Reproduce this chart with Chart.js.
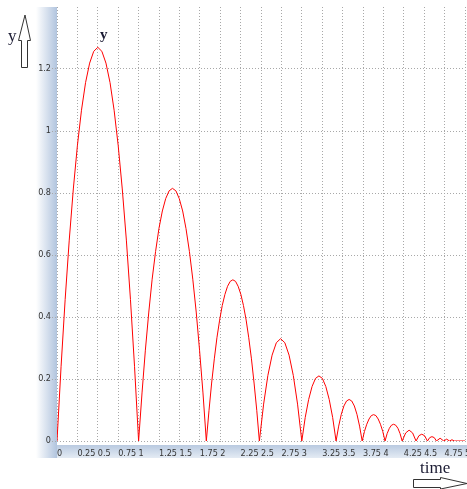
<!DOCTYPE html>
<html>
<head>
<meta charset="utf-8">
<script src="https://cdn.jsdelivr.net/npm/chart.js@4"></script>
<style>
  html, body { margin: 0; padding: 0; background: #fff; }
  #myChart { display: block; }
</style>
</head>
<body>
<canvas id="myChart" width="467" height="489"></canvas>
<script>
// bouncing ball: time (x) and height (y)
const times = [
  0, 0.05, 0.1, 0.15, 0.2, 0.25, 0.3, 0.35, 0.4, 0.45, 0.5, 0.55, 0.6, 0.65, 0.7, 0.75, 0.8, 0.85, 0.9, 0.95, 1.0,
  1.042, 1.083, 1.125, 1.166, 1.208, 1.249, 1.291, 1.332, 1.374, 1.415, 1.457, 1.498, 1.54, 1.581, 1.623, 1.664, 1.706, 1.747, 1.789, 1.83,
  1.863, 1.895, 1.928, 1.96, 1.993, 2.025, 2.058, 2.09, 2.123, 2.155, 2.188, 2.22, 2.253, 2.285, 2.318, 2.35, 2.383, 2.415, 2.448, 2.48,
  2.532, 2.584, 2.636, 2.688, 2.74, 2.792, 2.844, 2.896, 2.948, 3.0,
  3.042, 3.084, 3.126, 3.168, 3.21, 3.252, 3.294, 3.336, 3.378, 3.42,
  3.452, 3.484, 3.516, 3.548, 3.58, 3.612, 3.644, 3.676, 3.708, 3.74,
  3.768, 3.796, 3.824, 3.852, 3.88, 3.908, 3.936, 3.964, 3.992, 4.02,
  4.046, 4.073, 4.099, 4.125, 4.151, 4.178, 4.204, 4.23,
  4.273, 4.315, 4.358, 4.40,
  4.435, 4.47, 4.505, 4.54,
  4.568, 4.595, 4.623, 4.65,
  4.695, 4.74,
  4.775, 4.81,
  4.84, 4.87,
  5.0
];
const heights = [
  0, 0.241, 0.457, 0.648, 0.813, 0.953, 1.067, 1.156, 1.219, 1.257, 1.27, 1.257, 1.219, 1.156, 1.067, 0.953, 0.813, 0.648, 0.457, 0.241, 0,
  0.155, 0.293, 0.416, 0.522, 0.611, 0.685, 0.742, 0.782, 0.807, 0.815, 0.807, 0.782, 0.742, 0.685, 0.611, 0.522, 0.416, 0.293, 0.155, 0,
  0.099, 0.187, 0.265, 0.333, 0.39, 0.437, 0.473, 0.499, 0.515, 0.52, 0.515, 0.499, 0.473, 0.437, 0.39, 0.333, 0.265, 0.187, 0.099, 0,
  0.119, 0.211, 0.277, 0.317, 0.33, 0.317, 0.277, 0.211, 0.119, 0,
  0.076, 0.134, 0.176, 0.202, 0.21, 0.202, 0.176, 0.134, 0.076, 0,
  0.048, 0.086, 0.113, 0.129, 0.134, 0.129, 0.113, 0.086, 0.048, 0,
  0.031, 0.054, 0.071, 0.082, 0.085, 0.082, 0.071, 0.054, 0.031, 0,
  0.024, 0.041, 0.051, 0.054, 0.051, 0.041, 0.024, 0,
  0.026, 0.035, 0.026, 0,
  0.017, 0.022, 0.017, 0,
  0.011, 0.014, 0.011, 0,
  0.009, 0,
  0.006, 0,
  0.004, 0,
  0
];
const seriesName = "y";
const xTitle = "time";
const yTitle = "y";

const points = times.map((t, i) => ({ x: t, y: heights[i] }));

// gradient bands + arrow captions
const decorations = {
  id: "decorations",
  beforeDraw(chart) {
    const ctx = chart.ctx;
    const area = chart.chartArea;
    ctx.save();
    let g = ctx.createLinearGradient(36, 0, area.left, 0);
    g.addColorStop(0, "rgba(255,255,255,1)");
    g.addColorStop(1, "#b1c4de");
    ctx.fillStyle = g;
    ctx.fillRect(36, area.top, area.left - 36, 458 - area.top);
    g = ctx.createLinearGradient(0, 445, 0, 458);
    g.addColorStop(0, "#b9cae0");
    g.addColorStop(1, "#e4ebf4");
    ctx.fillStyle = g;
    ctx.fillRect(area.left, 445, chart.width - area.left, 13);
    ctx.restore();
  },
  afterDraw(chart) {
    const ctx = chart.ctx;
    const xs = chart.scales.x, ys = chart.scales.y;
    ctx.save();
    ctx.fillStyle = "#1b1b33";
    ctx.font = "17px 'Liberation Serif', serif";
    ctx.textBaseline = "alphabetic";
    ctx.fillText(yTitle, 8, 41);
    ctx.fillText(xTitle, 420, 473);

    // series name above the highest point
    const top = Math.max(...heights);
    const tTop = times[heights.indexOf(top)];
    ctx.font = "bold 15px 'Liberation Serif', serif";
    ctx.textAlign = "center";
    ctx.fillText(seriesName, xs.getPixelForValue(tTop) + 6, ys.getPixelForValue(top) - 8);

    // hollow arrows
    ctx.strokeStyle = "#333";
    ctx.fillStyle = "#fff";
    ctx.lineWidth = 1;
    ctx.beginPath();
    ctx.moveTo(25, 15);
    ctx.lineTo(30.5, 40.5);
    ctx.lineTo(27.5, 40.5);
    ctx.lineTo(27.5, 67.5);
    ctx.lineTo(21.5, 67.5);
    ctx.lineTo(21.5, 40.5);
    ctx.lineTo(18.5, 40.5);
    ctx.closePath();
    ctx.fill();
    ctx.stroke();

    ctx.beginPath();
    ctx.moveTo(413.5, 479.5);
    ctx.lineTo(440.5, 479.5);
    ctx.lineTo(440.5, 477.5);
    ctx.lineTo(467, 483.5);
    ctx.lineTo(440.5, 489);
    ctx.lineTo(440.5, 487.5);
    ctx.lineTo(413.5, 487.5);
    ctx.closePath();
    ctx.fill();
    ctx.stroke();
    ctx.restore();
  }
};

const tickFont = { family: "'DejaVu Sans Condensed', 'Liberation Sans', sans-serif", size: 9 };
const gridColor = "#a8a8a8";
const fmt = (v) => String(Number(v.toFixed(2)));

const config = {
  type: "line",
  data: {
    datasets: [
      {
        label: seriesName,
        data: points,
        borderColor: "#ff0000",
        borderWidth: 1,
        pointRadius: 0,
        tension: 0,
        fill: false,
      },
    ],
  },
  options: {
    responsive: false,
    animation: false,
    layout: { padding: { top: 7, right: 2, bottom: 0, left: 0 } },
    plugins: {
      legend: { display: false },
      tooltip: { enabled: false },
    },
    scales: {
      x: {
        type: "linear",
        min: 0,
        max: 5,
        border: { display: false, dash: [1, 2] },
        grid: {
          color: gridColor,
          tickBorderDash: [1, 2],
          tickLength: 3,
        },
        ticks: {
          stepSize: 0.25,
          autoSkip: false,
          maxRotation: 0,
          align: "start",
          padding: 4,
          color: "#333",
          font: tickFont,
          callback: fmt,
        },
        afterFit(scale) {
          scale.height = 48;
          scale.paddingLeft = 0;
          scale.paddingRight = 0;
        },
      },
      y: {
        min: 0,
        max: 1.4,
        border: { display: false, dash: [1, 2] },
        grid: {
          color: (c) => (c.tick && c.tick.value > 1.3 ? "rgba(0,0,0,0)" : gridColor),
          tickBorderDash: [1, 2],
          tickLength: 5,
        },
        ticks: {
          stepSize: 0.2,
          padding: 1,
          color: "#333",
          font: tickFont,
          callback: (v) => (v > 1.3 ? "" : fmt(v)),
        },
        afterFit(scale) {
          scale.width = 57;
          scale.paddingTop = 0;
          scale.paddingBottom = 0;
        },
      },
    },
  },
  plugins: [decorations],
};

const myChart = new Chart(document.getElementById("myChart"), config);
</script>
</body>
</html>
